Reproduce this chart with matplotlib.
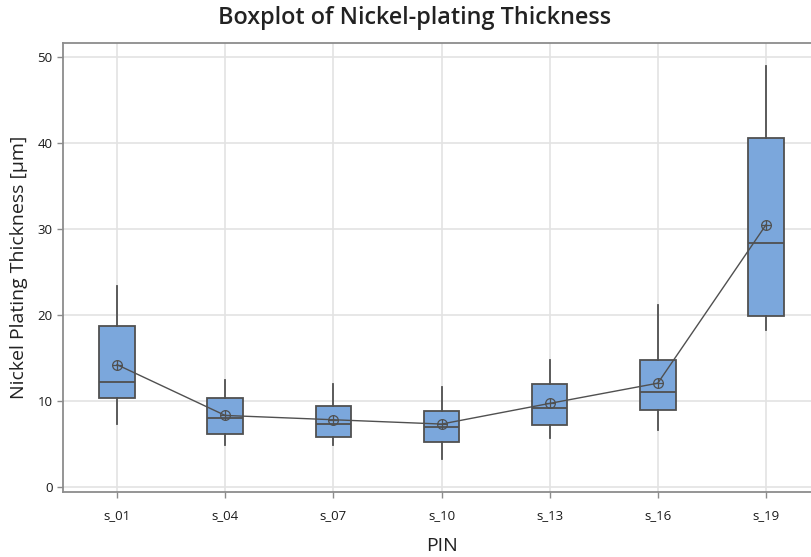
import matplotlib
matplotlib.use("Agg")
import matplotlib.pyplot as plt

# =========================
# DATA
# =========================
pins = ["s_01", "s_04", "s_07", "s_10", "s_13", "s_16", "s_19"]
whisker_low = [7.3, 4.9, 4.9, 3.2, 5.7, 6.6, 18.25]
q1 = [10.3, 6.1, 5.8, 5.2, 7.2, 8.9, 19.9]
median = [12.2, 7.95, 7.3, 6.9, 9.2, 11.0, 28.4]
q3 = [18.7, 10.3, 9.35, 8.85, 11.9, 14.75, 40.6]
whisker_high = [23.4, 12.4, 11.9, 11.6, 14.8, 21.1, 48.9]
means = [14.2, 8.3, 7.8, 7.3, 9.7, 12.05, 30.45]

plt.rcParams['font.family'] = ['Open Sans', 'DejaVu Sans']

BOX_COLOR = "#7BA7DC"
EDGE = "#505050"
GRID = "#e3e3e3"

# =========================
# FIGURE
# =========================
fig = plt.figure(figsize=(8.11, 5.57), dpi=100)
W, H = 811, 557
ax = fig.add_axes([63 / W, 1 - 492 / H, (820 - 63) / W, (492 - 43) / H])

stats = []
for i, name in enumerate(pins):
    stats.append({
        "label": name,
        "whislo": whisker_low[i],
        "q1": q1[i],
        "med": median[i],
        "q3": q3[i],
        "whishi": whisker_high[i],
        "fliers": [],
    })

positions = list(range(1, len(pins) + 1))
ax.bxp(
    stats,
    positions=positions,
    widths=0.33,
    patch_artist=True,
    showcaps=False,
    showfliers=False,
    boxprops=dict(facecolor=BOX_COLOR, edgecolor=EDGE, linewidth=1.3),
    medianprops=dict(color=EDGE, linewidth=1.3),
    whiskerprops=dict(color=EDGE, linewidth=1.3),
    zorder=3,
)

# mean connect line with circled-plus markers
ax.plot(positions, means, color=EDGE, linewidth=1.0, zorder=4)
ax.plot(positions, means, linestyle="none", marker="o", markersize=7,
        markerfacecolor="none", markeredgecolor=EDGE, markeredgewidth=0.9, zorder=5)
ax.plot(positions, means, linestyle="none", marker="+", markersize=7,
        markeredgecolor=EDGE, markeredgewidth=0.9, zorder=5)

ax.set_xlim(0.5, 7.5)
ax.set_ylim(-0.6, 51.6)
ax.set_yticks([0, 10, 20, 30, 40, 50])
ax.set_xticks(positions)
ax.set_xticklabels(pins)

ax.grid(True, color=GRID, linewidth=1.2, zorder=0)
ax.set_axisbelow(True)
for side in ["left", "top", "bottom", "right"]:
    ax.spines[side].set_color("#8c8c8c")
    ax.spines[side].set_linewidth(1.3)

ax.tick_params(axis="both", colors="#8c8c8c", length=4, width=1, labelcolor="#1a1a1a",
               labelsize=9.5)
ax.tick_params(axis="x", pad=8)
for lbl in ax.get_xticklabels() + ax.get_yticklabels():
    lbl.set_fontweight("medium")

ax.set_xlabel("PIN", fontsize=14, color="#222222", labelpad=11)
ax.set_ylabel("Nickel Plating Thickness [µm]", fontsize=14, color="#222222", labelpad=7)

fig.text(415 / W, 1 - 18 / H, "Boxplot of Nickel-plating Thickness", ha="center", va="center",
         fontsize=16.8, fontweight="semibold", color="#222222")

fig.savefig("out.png", dpi=100)
